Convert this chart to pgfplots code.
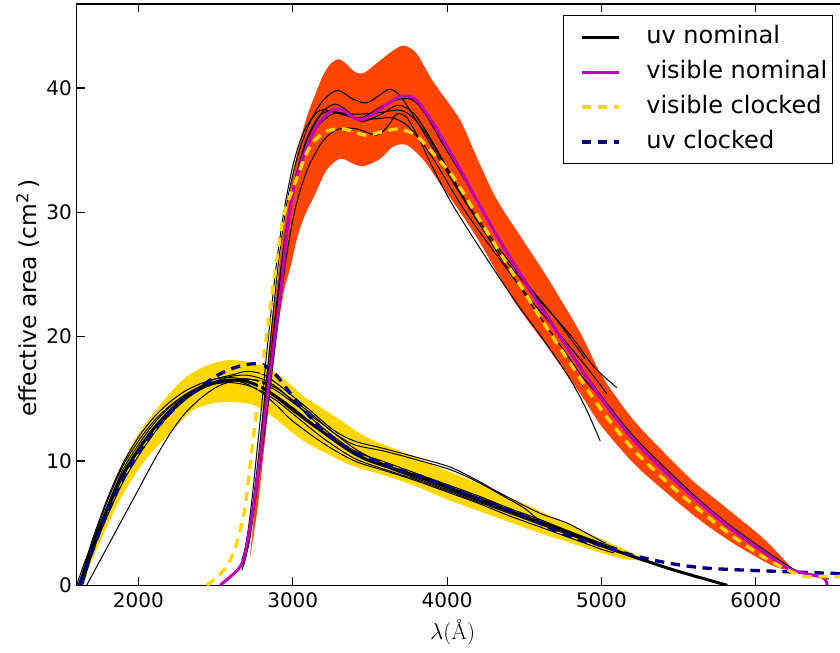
\documentclass[border=0pt]{standalone}
\usepackage{fontspec}
\setsansfont{DejaVu Sans}
\usepackage{pgfplots}
\pgfplotsset{compat=1.18}
\usepgfplotslibrary{fillbetween}
\definecolor{bandY}{HTML}{FFD700}
\definecolor{bandO}{HTML}{FF4500}
\definecolor{mag}{rgb}{0.75,0,0.75}
\definecolor{navyc}{HTML}{000080}
\begin{document}
\begin{tikzpicture}
\begin{axis}[
  scale only axis, width=572.8pt, height=435.75pt,
  xmin=1600, xmax=6550, ymin=0, ymax=46.75,
  xtick={2000,3000,4000,5000,6000}, ytick={0,10,20,30,40},
  xtick pos=both, ytick pos=left,
  tick align=inside, major tick length=6pt,
  axis line style={line width=0.9pt},
  every tick/.style={black, line width=0.9pt},
  tick label style={font=\sffamily\fontsize{15}{18}\selectfont},
  /pgf/number format/assume math mode=true,
  scaled x ticks=false,
  x tick label style={/pgf/number format/set thousands separator={}, yshift=-2pt},
  xlabel={\rmfamily\fontsize{17}{20}\selectfont $\lambda$(Å)},
  ylabel={\sffamily\fontsize{17.5}{20}\selectfont effective area (cm\textsuperscript{2}\,)},
  xlabel style={at={(axis description cs:0.492,-0.081)}, anchor=center},
  ylabel style={at={(axis description cs:-0.0636,0.494)}, anchor=center},
  legend style={at={(rel axis cs:1,1)}, anchor=north east, xshift=-5.7pt, yshift=-8.25pt,
    draw=black, line width=0.8pt, font=\sffamily\fontsize{18}{21}\selectfont,
    nodes={inner sep=0pt, text height=13pt, text depth=4pt},
    row sep=9.25pt, inner xsep=4pt, inner ysep=7.6pt,
    /tikz/every odd column/.append style={column sep=19.5pt}},
  legend cell align=left,
  legend image code/.code={\path (-8pt,0pt); \draw[#1] (0pt,0pt) -- (27.75pt,0pt);},
]
\addlegendimage{black, line width=2.25pt}
\addlegendentry{uv nominal}
\addlegendimage{mag, line width=2.25pt}
\addlegendentry{visible nominal}
\addlegendimage{bandY, line width=2.5pt, dash pattern=on 7pt off 5pt}
\addlegendentry{visible clocked}
\addlegendimage{navyc, line width=2.5pt, dash pattern=on 7pt off 5pt}
\addlegendentry{uv clocked}

% UV band (gold)
\addplot[name path=uvU, draw=none, smooth, forget plot] coordinates {
(1630,0) (1700,3.0) (1800,6.8) (1900,9.9) (2000,12.2) (2076,13.5) (2200,15.4) (2314,16.8) (2450,17.7) (2573,18.1) (2700,18.0) (2811,17.6) (2900,17.0) (3000,16.0) (3070,15.2) (3220,14.0) (3307,13.3) (3437,12.2) (3550,11.5) (3700,10.8) (3850,10.0) (4000,9.2) (4200,8.2) (4400,7.1) (4600,6.0) (4800,4.8) (5000,3.7) (5150,2.9) (5250,2.3)};
\addplot[name path=uvL, draw=none, smooth, forget plot] coordinates {
(1630,0) (1700,2.0) (1800,4.8) (1900,7.3) (2000,9.3) (2080,10.6) (2163,11.7) (2260,13.0) (2357,14.1) (2470,14.6) (2573,14.75) (2650,14.7) (2746,14.5) (2876,13.5) (3004,12.2) (3110,11.3) (3220,10.6) (3330,9.9) (3437,9.4) (3550,9.0) (3700,8.4) (3850,7.7) (4000,6.9) (4200,6.0) (4400,5.1) (4600,4.2) (4800,3.4) (5000,2.6) (5150,2.1) (5250,2.0)};
\addplot[bandY, forget plot] fill between[of=uvU and uvL];

% visible band (orange red)
\addplot[name path=viU, draw=none, smooth, forget plot] coordinates {
(2720,2) (2760,7) (2790,11.5) (2820,15.5) (2850,19.5) (2900,24.5) (2940,28.6) (3000,33.0) (3048,35.8) (3100,38.0) (3156,39.8) (3200,41.1) (3250,42.0) (3300,42.3) (3350,41.9) (3400,41.3) (3460,41.2) (3545,42.0) (3650,43.0) (3720,43.4) (3800,42.8) (3890,40.9) (3955,39.7) (4085,37.4) (4200,34.2) (4323,31.0) (4500,27.6) (4647,24.8) (4863,20.3) (5000,16.9) (5200,13.4) (5427,10.4) (5600,8.3) (5751,6.8) (5900,5.3) (6000,4.3) (6080,3.4) (6150,2.5) (6210,1.7) (6250,1.15)};
\addplot[name path=viL, draw=none, smooth, forget plot] coordinates {
(2720,2) (2770,6) (2810,10.5) (2850,15.0) (2893,19.7) (2940,23.5) (2983,25.5) (3030,28.0) (3080,29.8) (3135,31.2) (3220,33.4) (3307,34.3) (3394,33.9) (3459,33.7) (3566,34.3) (3653,35.3) (3739,35.4) (3847,34.2) (3955,32.3) (4085,30.0) (4215,27.5) (4431,22.9) (4647,19.2) (4863,15.4) (5000,12.8) (5209,9.8) (5425,7.4) (5641,5.2) (5857,3.35) (6073,1.8) (6160,1.35) (6250,1.15)};
\addplot[bandO, forget plot] fill between[of=viU and viL];

% individual uv measurements
\addplot[black, line width=0.75pt, smooth, forget plot] coordinates {
(1610,0) (1650,1.5) (1700,3.6) (1800,7.0) (1900,9.8) (2000,11.9) (2100,13.5) (2200,14.7) (2300,15.6) (2400,16.2) (2500,16.6) (2600,16.7) (2700,16.5) (2800,15.9) (2900,15.0) (3000,14.0) (3200,12.2) (3400,10.5) (3600,9.5) (3800,8.6) (4000,7.7) (4200,6.8) (4400,5.9) (4600,5.0) (4800,4.1) (5000,3.3) (5050,3.1)};
\addplot[black, line width=0.75pt, smooth, forget plot] coordinates {
(1665,0) (1800,3.1) (1900,5.4) (2000,7.7) (2100,10.0) (2200,12.1) (2300,13.8) (2400,15.0) (2500,15.9) (2600,16.4) (2700,16.6) (2800,16.3) (2900,15.6) (3000,14.7) (3200,12.9) (3400,11.0) (3600,9.7) (3800,8.7) (4000,7.8) (4200,6.8) (4400,5.9) (4600,5.0) (4800,4.1) (5000,3.2)};
\addplot[black, line width=0.75pt, smooth, forget plot] coordinates {
(1630,0) (1700,2.8) (1800,6.2) (1900,9.0) (2000,11.0) (2100,12.7) (2200,14.1) (2300,15.2) (2400,16.0) (2500,16.6) (2600,16.9) (2700,17.2) (2800,17.0) (2900,16.2) (3000,15.2) (3100,14.2) (3262,12.5) (3400,11.6) (3589,11.0) (3800,10.3) (4021,9.5) (4200,8.4) (4345,7.4) (4600,5.8) (4777,5.0) (4992,3.6) (5030,3.4)};
\addplot[black, line width=0.75pt, smooth, forget plot] coordinates {
(1640,0) (1700,2.5) (1800,5.9) (1900,8.7) (2000,10.8) (2100,12.5) (2200,13.9) (2300,15.0) (2400,15.8) (2500,16.3) (2600,16.5) (2700,16.6) (2800,16.4) (2900,15.8) (3000,14.9) (3100,14.0) (3262,12.3) (3400,11.3) (3589,10.8) (3800,10.1) (4021,9.3) (4200,8.3) (4345,7.3) (4500,6.2) (4604,5.1)};
\addplot[black, line width=0.75pt, smooth, forget plot] coordinates {
(1620,0) (1700,2.9) (1800,6.4) (1900,9.3) (2000,11.3) (2100,13.0) (2200,14.3) (2300,15.3) (2400,16.0) (2500,16.4) (2600,16.5) (2700,16.2) (2800,15.5) (2900,14.4) (3000,13.2) (3200,11.4) (3400,10.0) (3600,9.2) (3800,8.4) (4000,7.5) (4200,6.6) (4400,5.6) (4600,4.7) (4800,3.8) (5000,2.9) (5080,2.6)};
\addplot[black, line width=0.75pt, smooth, forget plot] coordinates {
(1625,0) (1700,2.6) (1800,5.6) (1900,8.3) (2000,10.4) (2100,12.2) (2200,13.7) (2300,14.9) (2400,15.8) (2500,16.4) (2600,16.8) (2700,16.9) (2800,16.6) (2900,15.9) (3000,14.8) (3200,12.6) (3400,10.8) (3600,9.9) (3800,9.0) (4000,8.1) (4200,7.2) (4400,6.2) (4600,5.3) (4800,4.3) (5000,3.4) (5100,3.0)};
\addplot[black, line width=0.75pt, smooth, forget plot] coordinates {
(1600,0) (1650,1.8) (1700,3.4) (1800,6.8) (1900,9.6) (2000,11.6) (2100,13.2) (2200,14.4) (2300,15.3) (2400,15.9) (2500,16.2) (2600,16.3) (2700,16.1) (2800,15.6) (2900,14.8) (3000,13.8) (3200,11.8) (3400,10.2) (3600,9.3) (3800,8.5) (4000,7.6) (4200,6.7) (4400,5.8) (4600,4.9) (4800,4.0) (5000,3.1)};

% individual visible measurements
\addplot[black, line width=0.75pt, smooth, forget plot] coordinates {
(2670,1.8) (2700,3.2) (2740,6.4) (2780,10.6) (2810,14.2) (2840,17.8) (2870,21.6) (2910,26.2) (2960,30.6) (3020,34.0) (3100,36.9) (3190,38.9) (3290,39.8) (3390,39.1) (3480,38.8) (3560,39.4) (3630,39.9) (3700,39.3) (3800,37.4) (3900,35.3) (4000,33.2) (4200,29.2) (4400,25.8) (4600,22.9) (4800,20.1) (4950,17.6) (5099,15.9)};
\addplot[black, line width=0.75pt, smooth, forget plot] coordinates {
(2670,1.2) (2700,2.6) (2745,6.0) (2790,10.2) (2825,14.0) (2860,17.8) (2900,22.4) (2950,27.6) (3000,31.4) (3080,35.4) (3180,37.8) (3260,38.1) (3350,37.9) (3437,37.9) (3550,38.0) (3696,38.2) (3780,37.6) (3870,36.2) (3960,34.3) (4100,31.3) (4300,27.7) (4500,24.5) (4700,21.5) (4896,18.2)};
\addplot[black, line width=0.75pt, smooth, forget plot] coordinates {
(2680,1.5) (2720,3.6) (2760,7.0) (2800,10.6) (2835,14.0) (2870,17.6) (2910,21.8) (2960,26.5) (3020,30.5) (3100,33.6) (3200,35.8) (3300,36.7) (3415,36.7) (3545,36.2) (3620,37.0) (3674,37.9) (3740,37.6) (3830,35.6) (3930,33.0) (4050,30.3) (4250,26.4) (4450,22.7) (4650,19.3) (4800,16.5) (4900,14.2) (4992,11.6)};
\addplot[black, line width=0.75pt, smooth, forget plot] coordinates {
(2670,2.0) (2700,3.5) (2735,6.8) (2770,11.0) (2800,14.6) (2830,18.5) (2860,22.0) (2900,26.4) (2950,30.6) (3010,34.2) (3080,36.7) (3177,38.2) (3280,38.0) (3400,37.6) (3520,37.5) (3640,37.6) (3740,37.0) (3850,35.4) (3950,33.5) (4100,30.4) (4300,26.9) (4500,23.6) (4700,20.6) (4900,17.6) (5036,15.4)};
\addplot[black, line width=0.75pt, smooth, forget plot] coordinates {
(2675,1.6) (2710,3.4) (2750,7.0) (2790,11.2) (2825,15.0) (2860,18.8) (2900,23.2) (2950,28.0) (3010,32.4) (3090,35.9) (3180,37.9) (3270,38.7) (3350,38.2) (3440,37.3) (3560,37.8) (3680,38.6) (3780,38.0) (3880,36.2) (3990,33.8) (4150,30.3) (4350,26.3) (4550,22.5) (4750,19.0) (4900,16.4) (5079,14.0)};
\addplot[black, line width=0.75pt, smooth, forget plot] coordinates {
(2690,2.8) (2745,6.5) (2790,10.8) (2822,14.2) (2853,17.4) (2876,19.8) (2918,23.6) (2962,28.8) (3004,32.0) (3069,34.6) (3156,36.8) (3242,37.8) (3307,38.0) (3415,37.6) (3480,37.8) (3588,38.6) (3696,39.1) (3782,39.0) (3869,37.7) (3976,35.4) (4100,32.9) (4200,30.7) (4400,26.6) (4600,22.7) (4800,18.8) (5000,15.2) (5200,12.1) (5424,9.3) (5640,6.8) (5855,4.6) (6072,2.7) (6244,1.3) (6300,1.05) (6473,0.5)};

% uv nominal
\addplot[black, line width=2.25pt, smooth, forget plot] coordinates {
(1620,0) (1700,3.0) (1800,6.2) (1900,8.9) (2000,10.9) (2100,12.6) (2200,13.9) (2300,15.0) (2400,15.8) (2500,16.3) (2600,16.5) (2700,16.4) (2800,15.9) (2900,15.1) (3000,14.2) (3100,13.2) (3200,12.3) (3300,11.4) (3400,10.6) (3500,10.0) (3600,9.6) (3700,9.2) (3800,8.8) (3900,8.4) (4000,7.9) (4200,7.0) (4400,6.0) (4600,5.1) (4800,4.2) (5000,3.2) (5100,2.75) (5450,1.3) (5815,0)};
% uv clocked
\addplot[navyc, line width=2.5pt, dash pattern=on 7pt off 5pt, smooth, forget plot] coordinates {
(1620,0) (1700,2.7) (1800,5.9) (1900,8.6) (2000,10.6) (2100,12.4) (2200,13.8) (2300,15.0) (2400,15.9) (2500,16.8) (2600,17.4) (2700,17.75) (2790,17.8) (2850,17.4) (2900,16.8) (3000,15.2) (3130,13.3) (3260,11.8) (3390,10.8) (3480,10.3) (3700,9.25) (3975,8.1) (4130,7.3) (4450,5.8) (4780,4.0) (5000,3.2) (5100,2.8) (5206,2.4) (5426,1.8) (5640,1.42) (5854,1.26) (6074,1.15) (6288,1.05) (6550,0.94)};
% visible nominal
\addplot[mag, line width=2.25pt, smooth, forget plot] coordinates {
(2530,0) (2615,0.9) (2660,1.5) (2691,2.5) (2745,6.3) (2788,10.3) (2821,13.8) (2853,17.0) (2875,19.2) (2918,23.2) (2962,28.4) (3004,31.8) (3069,34.5) (3156,36.9) (3242,38.1) (3307,38.3) (3360,37.9) (3415,37.5) (3480,37.6) (3588,38.5) (3696,39.3) (3782,39.2) (3869,37.9) (3976,35.8) (4100,33.1) (4200,30.8) (4300,28.6) (4400,26.5) (4500,24.5) (4600,22.5) (4700,20.6) (4800,18.7) (4900,16.8) (5000,15.0) (5200,11.8) (5424,9.0) (5640,6.6) (5855,4.4) (6072,2.5) (6200,1.4) (6300,1.0) (6437,0.6) (6461,0)};
% visible clocked
\addplot[bandY, line width=2.5pt, dash pattern=on 7pt off 5pt, smooth, forget plot] coordinates {
(2444,0) (2530,0.9) (2590,1.9) (2640,3.5) (2690,6.2) (2730,10.3) (2765,14.0) (2798,17.2) (2830,20.0) (2875,24.3) (2940,29.6) (3004,32.0) (3112,35.3) (3220,36.5) (3328,36.7) (3410,36.4) (3480,36.2) (3588,36.5) (3696,36.7) (3804,36.1) (3912,34.7) (4041,32.8) (4200,29.6) (4400,25.6) (4600,21.6) (4800,17.8) (5000,14.1) (5200,11.0) (5424,8.3) (5640,6.0) (5855,3.9) (6072,2.1) (6288,0.8) (6400,0.7) (6550,0.7)};
\end{axis}
\pgfresetboundingbox
\path[use as bounding box] ([xshift=-57.45pt,yshift=-50.25pt]current axis.south west) rectangle ([xshift=-0.55pt,yshift=3pt]current axis.north east);
\end{tikzpicture}
\end{document}
